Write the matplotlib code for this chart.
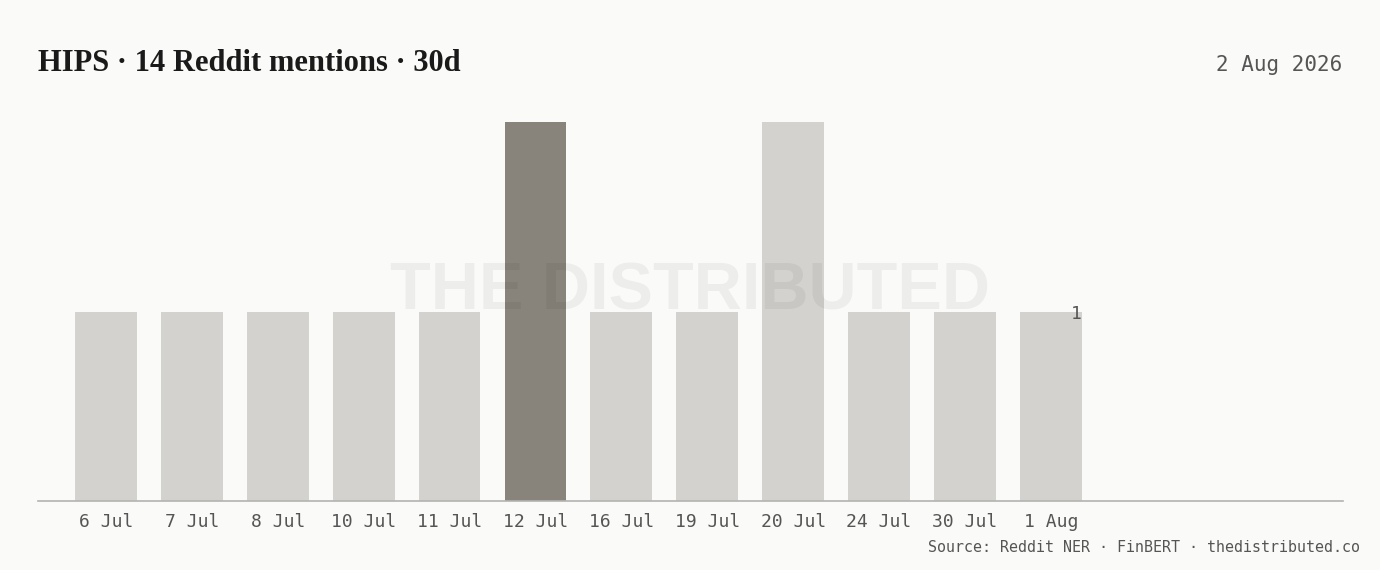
import matplotlib.pyplot as plt
import numpy as np

# data
dates = ["6 Jul", "7 Jul", "8 Jul", "10 Jul", "11 Jul", "12 Jul",
         "16 Jul", "19 Jul", "20 Jul", "24 Jul", "30 Jul", "1 Aug"]
mentions = [1, 1, 1, 1, 1, 2, 1, 1, 2, 1, 1, 1]
highlight = "12 Jul"
ticker = "HIPS"
window = "30d"
as_of = "2 Aug 2026"
source = "Source: Reddit NER \u00b7 FinBERT \u00b7 thedistributed.co"

bg = "#fafaf8"
bar_light = "#d3d2ce"
bar_dark = "#88847c"
text_grey = "#555555"
mono = ["DejaVu Sans Mono"]

fig = plt.figure(figsize=(13.8, 5.7), dpi=100, facecolor=bg)
ax = fig.add_axes([38 / 1380, 69 / 570, 1305 / 1380, 379 / 570])
ax.set_facecolor(bg)

x = np.arange(len(dates))
colors = [bar_dark if d == highlight else bar_light for d in dates]
ax.bar(x, mentions, width=0.72, color=colors, zorder=2)

# slot width ~86px, first bar centre at 106px
ax.set_xlim(-0.79, 14.4)
ax.set_ylim(0, 2)

ax.set_xticks(x)
ax.set_xticklabels(dates, family=mono, fontsize=13, color=text_grey)
ax.tick_params(axis="x", length=0, pad=8.5)
ax.set_yticks([])
for s in ["top", "right", "left"]:
    ax.spines[s].set_visible(False)
ax.spines["bottom"].set_color("#b3b3b0")
ax.spines["bottom"].set_linewidth(1.2)

# value label on the last bar
ax.text(x[-1] + 0.36, mentions[-1] - 0.015, str(mentions[-1]), ha="right", va="center",
        family=mono, fontsize=13, color=text_grey, zorder=3)

# watermark
ax.text(0.5, 0.487, "THE DISTRIBUTED", transform=fig.transFigure, ha="center",
        va="center", family=["Liberation Sans"], fontweight="bold",
        fontsize=48, color="black", alpha=0.05, zorder=5)

total = sum(mentions)
fig.text(38 / 1380, 1 - 71 / 570, f"{ticker} \u00b7 {total} Reddit mentions \u00b7 {window}",
         ha="left", va="baseline", family=["Liberation Serif"], fontweight="bold",
         fontsize=22, color="#1a1a1a")
fig.text(1342 / 1380, 1 - 71 / 570, as_of, ha="right", va="baseline",
         family=mono, fontsize=15, color=text_grey)
fig.text(1360 / 1380, 1 - 552 / 570, source, ha="right", va="baseline",
         family=mono, fontsize=10.8, color=text_grey)

fig.savefig("out.png", dpi=100, facecolor=bg)
